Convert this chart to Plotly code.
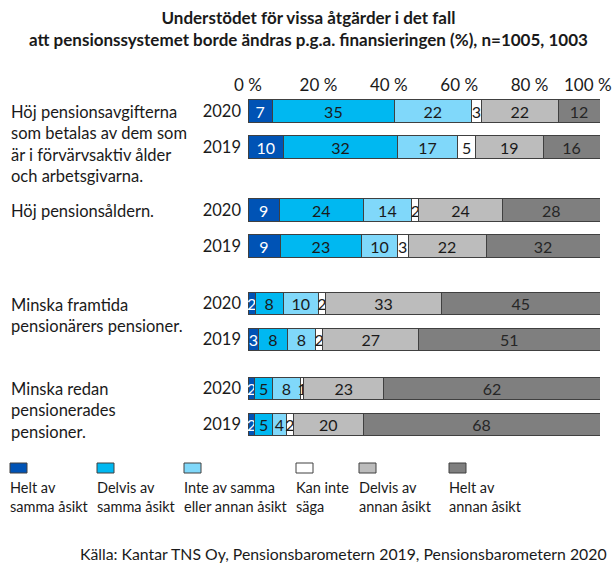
import plotly.graph_objects as go

# ---- data ----
categories = [
    "Höj pensionsavgifterna<br>som betalas av dem som<br>är i förvärvsaktiv ålder<br>och arbetsgivarna.",
    "Höj pensionsåldern.",
    "Minska framtida<br>pensionärers pensioner.",
    "Minska redan<br>pensionerades<br>pensioner.",
]
years = ["2020", "2019"]
series_names = [
    "Helt av<br>samma åsikt",
    "Delvis av<br>samma åsikt",
    "Inte av samma<br>eller annan åsikt",
    "Kan inte<br>säga",
    "Delvis av<br>annan åsikt",
    "Helt av<br>annan åsikt",
]
# rows: cat1-2020, cat1-2019, cat2-2020, cat2-2019, ...
helt_samma = [7, 10, 9, 9, 2, 3, 2, 2]
delvis_samma = [35, 32, 24, 23, 8, 8, 5, 5]
inte_samma = [22, 17, 14, 10, 10, 8, 8, 4]
kan_inte = [3, 5, 2, 3, 2, 2, 1, 2]
delvis_annan = [22, 19, 24, 22, 33, 27, 23, 20]
helt_annan = [12, 16, 28, 32, 45, 51, 62, 68]
series_values = [helt_samma, delvis_samma, inte_samma, kan_inte, delvis_annan, helt_annan]

x_ticks = [0, 20, 40, 60, 80, 100]
x_ticktext = ["0 %", "20 %", "40 %", "60 %", "80 %", "100 %"]

title_text = ("<b>Understödet för vissa åtgärder i det fall<br>"
              "att pensionssystemet borde ändras p.g.a. finansieringen (%), n=1005, 1003</b>")
source_text = "Källa: Kantar TNS Oy, Pensionsbarometern 2019, Pensionsbarometern 2020"

# ---- styles ----
colors = ["#0053B5", "#00B8F1", "#80D8FA", "#FFFFFF", "#BCBCBC", "#7F7F7F"]
text_colors = ["#FFFFFF", "#1a1a1a", "#1a1a1a", "#1a1a1a", "#1a1a1a", "#262626"]
FONT = "Lato"
TXT = "#1a1a1a"
W, H = 616, 569
ML, MR, MT, MB = 248, 16, 95, 124
PW, PH = W - ML - MR, H - MT - MB

group_pos = [0.0, 2.75, 5.35, 7.7]
year_offset = 1.0
y_positions = []
for g in group_pos:
    y_positions += [g, g + year_offset]
y_ticktext = years * len(categories)

px_per_unit = 36.0
y_top = -16 / px_per_unit
y_bottom = y_top + PH / px_per_unit

fig = go.Figure()
for name, vals, col, tcol in zip(series_names, series_values, colors, text_colors):
    fig.add_trace(go.Bar(
        x=vals, y=y_positions, orientation="h", name=name,
        marker=dict(color=col, line=dict(color="#404040", width=1)),
        width=0.62,
        text=[str(v) for v in vals], textposition="inside",
        insidetextanchor="middle", textangle=0,
        textfont=dict(family=FONT, size=16, color=tcol),
        showlegend=False, hoverinfo="x+name",
    ))

def px2paper_x(px):
    return (px - ML) / PW

def px2paper_y(py):
    return (H - MB - py) / PH

annotations = []
# title
annotations.append(dict(
    text=title_text, x=px2paper_x(308), xref="paper", xanchor="center",
    y=px2paper_y(29), yref="paper", yanchor="middle",
    showarrow=False, align="center",
    font=dict(family=FONT, size=17, color=TXT),
))
# last x tick label (shifted inward, as in the reference)
annotations.append(dict(
    text=x_ticktext[-1], x=x_ticks[-1], xref="x", xanchor="center", xshift=-12,
    y=1, yref="paper", yanchor="bottom", yshift=-2,
    showarrow=False, font=dict(family=FONT, size=17, color=TXT),
))
# category labels
for cat, g in zip(categories, group_pos):
    annotations.append(dict(
        text=cat, x=px2paper_x(9), xref="paper", xanchor="left",
        y=g - 11 / px_per_unit, yref="y", yanchor="top",
        showarrow=False, align="left",
        font=dict(family=FONT, size=16.5, color=TXT),
    ))

# legend (manual: swatch above two-line label)
legend_x = [10, 97, 184, 296, 359, 449]
shapes = []
for lx, name, col in zip(legend_x, series_names, colors):
    shapes.append(dict(
        type="rect", xref="paper", yref="paper",
        x0=px2paper_x(lx), x1=px2paper_x(lx + 17),
        y0=px2paper_y(473), y1=px2paper_y(463),
        fillcolor=col, line=dict(color="#404040", width=1),
    ))
    annotations.append(dict(
        text=name, x=px2paper_x(lx - 2), xref="paper", xanchor="left",
        y=px2paper_y(477), yref="paper", yanchor="top",
        showarrow=False, align="left",
        font=dict(family=FONT, size=14.5, color=TXT),
    ))

annotations.append(dict(
    text=source_text, x=px2paper_x(609), xref="paper", xanchor="right",
    y=px2paper_y(553), yref="paper", yanchor="middle",
    showarrow=False, font=dict(family=FONT, size=15.8, color=TXT),
))

fig.update_layout(
    width=W, height=H,
    margin=dict(l=ML, r=MR, t=MT, b=MB, autoexpand=False),
    barmode="stack", barnorm="percent",
    plot_bgcolor="white", paper_bgcolor="white",
    xaxis=dict(range=[0, 100], side="top", tickvals=x_ticks[:-1], ticktext=x_ticktext[:-1],
               showgrid=False, zeroline=False, showline=False, ticks="",
               tickfont=dict(family=FONT, size=17, color=TXT), fixedrange=True),
    yaxis=dict(range=[y_bottom, y_top], tickvals=y_positions, ticktext=y_ticktext,
               showgrid=False, zeroline=False, showline=False, ticks="",
               ticklabelstandoff=6,
               tickfont=dict(family=FONT, size=16.5, color=TXT), fixedrange=True),
    uniformtext=dict(minsize=16, mode="show"),
    annotations=annotations, shapes=shapes,
    font=dict(family=FONT),
)

fig.write_html("out.html", post_script="document.body.style.margin='0px';",
               config={"displayModeBar": False})
